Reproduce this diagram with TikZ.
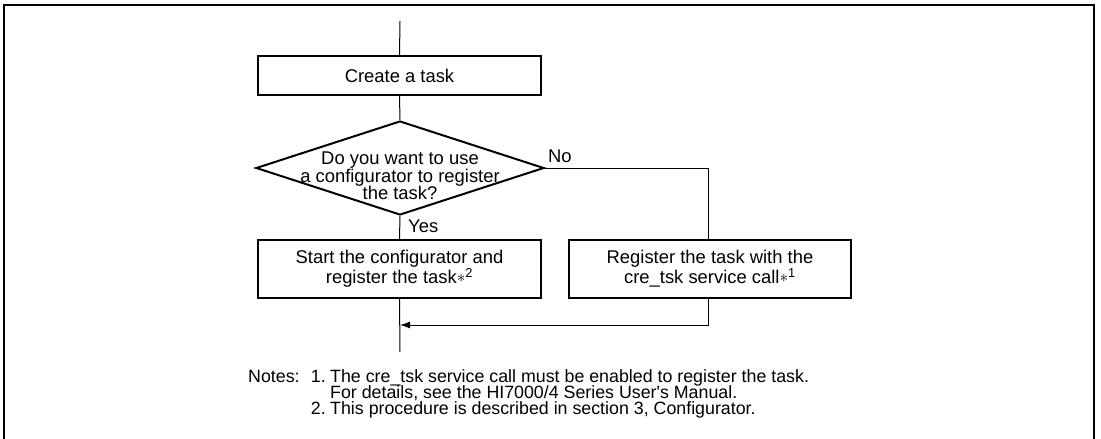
\documentclass[tikz,border=0pt]{standalone}
\usepackage{fontspec}
\setmainfont{Liberation Sans}
\usetikzlibrary{shapes.geometric,arrows.meta}
\tikzset{
  procbox/.style={draw, line width=2pt, minimum width=283pt, inner sep=0pt, align=center,
    font=\fontsize{18.4}{18.5}\selectfont},
  decision/.style={draw, diamond, line width=2pt, inner sep=0pt,
    minimum width=288pt, minimum height=94pt},
  lbl/.style={font=\fontsize{18.4}{18.5}\selectfont, inner sep=0pt},
  note/.style={font=\fontsize{17.8}{16}\selectfont, inner sep=0pt, anchor=base west},
  notenum/.style={note, anchor=base east},
  flow/.style={line width=1pt},
  flowarrow/.style={line width=1pt, -{Latex[length=10pt,width=7pt]}}
}
\newcommand{\noteref}[1]{\raisebox{1pt}{$\ast$}\textsuperscript{#1}}
\begin{document}
\begin{tikzpicture}[x=1pt,y=-1pt]
  \useasboundingbox (0,0) rectangle (1101,439);
  % outer frame (its lower edge lies below the page)
  \draw[line width=2.2pt] (4,470) -- (4,5) -- (1094,5) -- (1094,470);

  % flow entry
  \coordinate (entry) at (400,21);
  \node[procbox, minimum height=39pt] (create) at (399.5,75.5) {Create a task};
  \node[decision] (dec) at (400,168) {};
  \node[lbl, align=center, font=\fontsize{18.4}{17.5}\selectfont] (q) at (400,176)
    {Do you want to use\\a configurator to register\\the task?};
  \node[lbl, anchor=west] (yes) at (408,226) {Yes};
  \node[lbl, anchor=west] (no) at (548,156) {No};

  \node[procbox, minimum height=58pt] (cfg) at (399.5,269)
    {Start the configurator and\\register the task\noteref{2}};
  \node[procbox, minimum width=282pt, minimum height=58pt] (svc) at (710,269)
    {Register the task with the\\cre\_tsk service call\noteref{1}};

  \coordinate (exit) at (400,352);
  \coordinate (joinR) at (708,325);
  \coordinate (joinL) at (400,325);
  \coordinate (noCorner) at (708,168);

  \draw[flow] (entry) -- (create.north);
  \draw[flow] (create.south) -- (dec.north);
  \draw[flow] (dec.south) -- (cfg.north);
  \draw[flow] (dec.east) -- (noCorner) -- (svc.north -| noCorner);
  \draw[flow] (cfg.south) -- (exit);
  \draw[flowarrow] (svc.south -| joinR) -- (joinR) -- (joinL);

  % footnotes
  \node[note] (n0) at (248,382) {Notes:};
  \node[notenum] (n1) at (326,382) {1.};
  \node[note] (n1a) at (330,382) {The cre\_tsk service call must be enabled to register the task.};
  \node[note] (n1b) at (330,398) {For details, see the HI7000/4 Series User\textquotesingle s Manual.};
  \node[notenum] (n2) at (326,414) {2.};
  \node[note] (n2a) at (330,414) {This procedure is described in section 3, Configurator.};
\end{tikzpicture}
\end{document}
